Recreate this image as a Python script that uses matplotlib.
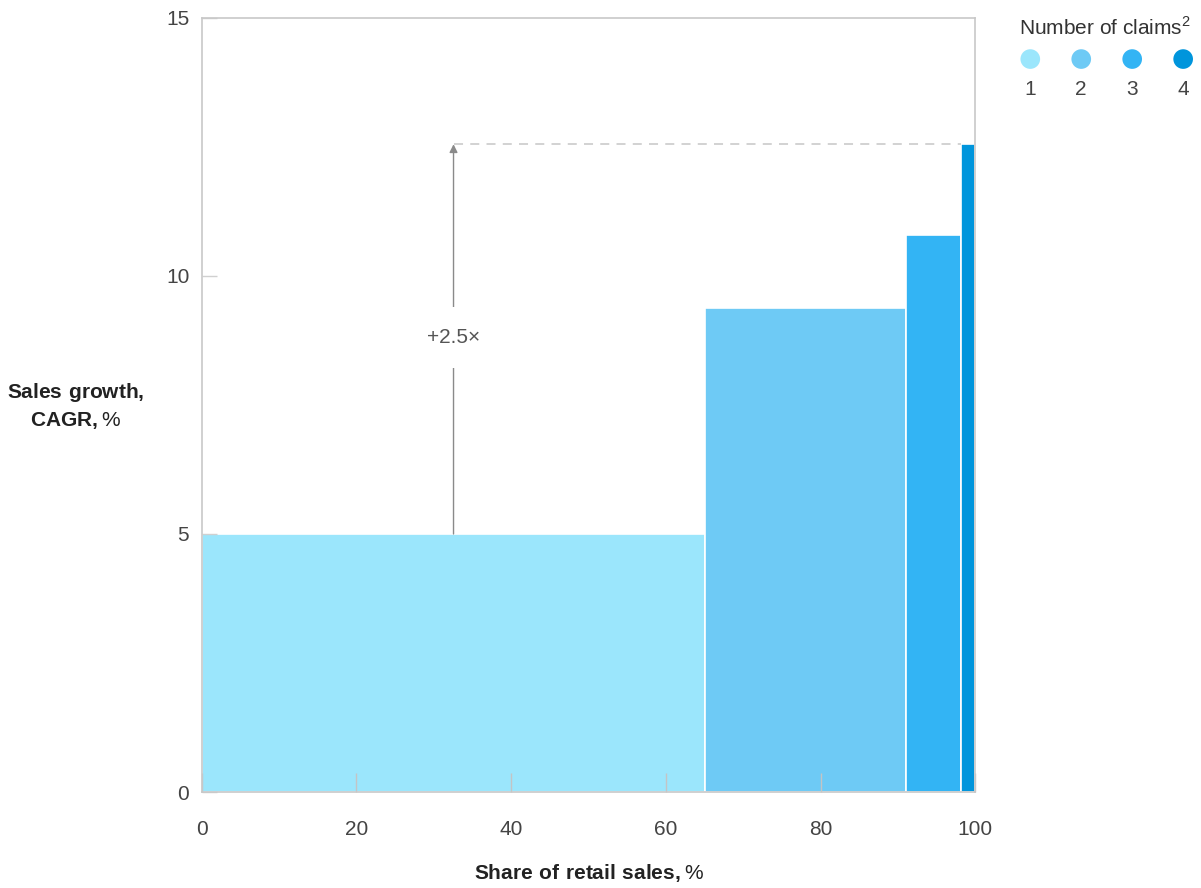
import numpy as np
from matplotlib import pyplot as plt

plt.rcParams['font.family'] = ['Liberation Sans', 'DejaVu Sans']
plt.rcParams['mathtext.fontset'] = 'custom'
plt.rcParams['mathtext.bf'] = 'Liberation Sans:bold'
plt.rcParams['mathtext.rm'] = 'Liberation Sans'

# data
claims = [1, 2, 3, 4]
share = [65.1, 26.0, 7.0, 1.9]          # share of retail sales, %
growth = [5.0, 9.37, 10.8, 12.55]       # sales growth CAGR, %
colors = ['#9be6fc', '#6ecaf5', '#33b4f4', '#0095dc']
multiple = '+2.5×'

left = np.concatenate([[0], np.cumsum(share)[:-1]])

fig = plt.figure(figsize=(12.01, 8.88), dpi=100)
ax = fig.add_axes([0.168, 0.108, 0.644, 0.872])

ax.bar(left, growth, width=share, align='edge', color=colors,
       edgecolor='white', linewidth=1.2, zorder=1)

ax.set_xlim(0, 100)
ax.set_ylim(0, 15)
ax.set_xticks([0, 20, 40, 60, 80, 100])
ax.set_yticks([0, 5, 10, 15])
for s in ax.spines.values():
    s.set_color('#c8c8c8')
    s.set_linewidth(1.2)
ax.tick_params(axis='x', direction='in', length=14, width=1, color='#c4c4c4',
               pad=20, labelsize=15, labelcolor='#444444')
ax.tick_params(axis='y', direction='in', length=11, width=1, color='#d0d0d0',
               pad=9, labelsize=15, labelcolor='#444444')

# arrow showing the multiple
xa = left[0] + share[0] / 2
top = growth[-1]
ax.plot([xa, left[-1]], [top, top], color='#cfcfcf', lw=1.3,
        dashes=(5, 4), zorder=2)
ax.annotate('', xy=(xa, top), xytext=(xa, growth[0]),
            arrowprops=dict(arrowstyle='-|>', color='#8a8a8a', lw=1,
                            mutation_scale=12, shrinkA=0, shrinkB=0))
ax.text(xa, 8.8, multiple, ha='center', va='center', fontsize=15,
        color='#555555', bbox=dict(facecolor='white', edgecolor='none', pad=15))

ax.set_xlabel(r'$\mathbf{Share\ of\ retail\ sales,}$%', fontsize=15,
              color='#222222', labelpad=17)
fig.text(0.063, 0.543, r'$\mathbf{Sales\ growth,}$' + '\n' + r'$\mathbf{CAGR,}$%',
         ha='center', va='center', fontsize=15, color='#222222',
         linespacing=1.4)

# legend
lax = fig.add_axes([0.843, 0.874, 0.157, 0.085])
lax.set_xlim(0.65, 4.35)
lax.set_ylim(0, 3)
lax.axis('off')
lax.scatter(claims, [2.1] * 4, s=200, c=colors, edgecolors='none')
for c in claims:
    lax.text(c, 0.9, str(c), ha='center', va='center', fontsize=15,
             color='#444444')
fig.text(0.92, 0.969, 'Number of claims$^2$', ha='center', va='center',
         fontsize=15, color='#333333')

fig.savefig('out.png', dpi=100)
